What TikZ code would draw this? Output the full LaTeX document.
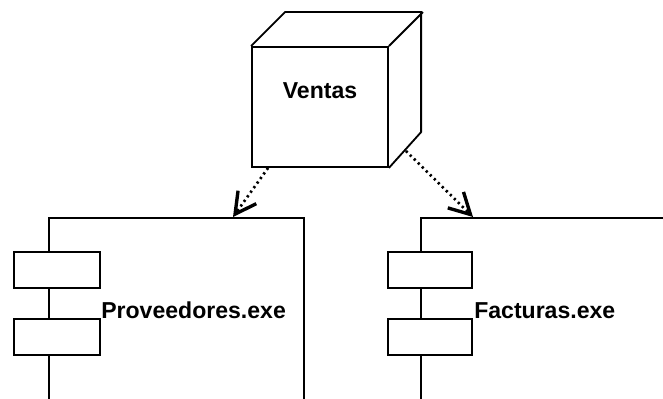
\documentclass[tikz,border=0pt]{standalone}
\usepackage{fontspec}
\setmainfont{Liberation Sans}
\usepackage{tikz}
\usetikzlibrary{arrows.meta,positioning,calc}
\tikzstyle{face} = [rectangle, draw, line width=1.3pt, minimum width=3.4cm, minimum height=3cm, inner sep=0pt]
\tikzstyle{comp} = [rectangle, draw, line width=1.3pt, anchor=north west, minimum height=6cm, inner sep=0pt]
\tikzstyle{tab} = [rectangle, draw, fill=white, line width=1.3pt, minimum width=2.15cm, minimum height=0.9cm, inner sep=0pt]
\tikzstyle{lbl} = [font=\fontsize{16.4}{19.7}\selectfont\bfseries, inner sep=0pt]
\tikzstyle{dep} = [line width=1.9pt, dash pattern=on 1.6pt off 2.4pt, -{Straight Barb[length=5.2mm,width=5.6mm,line width=2.4pt]}]

\begin{document}
\begin{tikzpicture}
    \useasboundingbox (0,0) rectangle (16.575,9.95);
    % node
    \node[face] (ventas) at (8.0,7.275) {};
    \draw[line width=1.3pt, line join=miter] (ventas.north west) -- ++(0.85,0.85) -- ++(3.4,0) -- ++(0,-3) -- (ventas.south east);
    \draw[line width=1.3pt] (ventas.north east) -- ++(0.85,0.85);
    \node[lbl, anchor=base] (ventasl) at (8.0,7.49) {Ventas};
    % components
    \node[comp, minimum width=6.375cm] (prov) at (1.2,4.525) {};
    \node[tab] (prov1) at (1.425,3.2) {};
    \node[tab] (prov2) at (1.425,1.525) {};
    \node[lbl, anchor=base west] (provl) at (2.525,1.99) {Proveedores.exe};
    \node[comp, minimum width=7cm] (fact) at (10.5,4.525) {};
    \node[tab, minimum width=2.1cm] (fact1) at (10.75,3.2) {};
    \node[tab, minimum width=2.1cm] (fact2) at (10.75,1.525) {};
    \node[lbl, anchor=base west] (factl) at (11.85,1.99) {Facturas.exe};
    % dependencies
    \coordinate (d1) at ($(ventas.south west)+(0.425,0)$);
    \coordinate (e1) at ($(prov.north west)+(4.625,0)$);
    \coordinate (d2) at ($(ventas.south east)+(0.425,0.425)$);
    \coordinate (e2) at ($(fact.north west)+(1.325,0)$);
    \draw[dep] (d1) -- (e1);
    \draw[dep] (d2) -- (e2);
\end{tikzpicture}
\end{document}
